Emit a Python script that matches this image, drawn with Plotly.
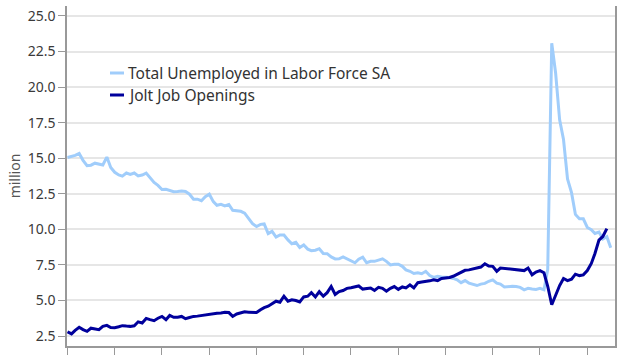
import pandas as pd
import plotly.graph_objects as go

# Monthly data, millions (starting Jan 2010)
start_month = "2010-01-01"
unemployed = [
    15.05, 15.11, 15.20, 15.33, 14.85, 14.47, 14.51, 14.65, 14.58, 14.52, 15.08, 14.35,  # 2010
    14.01, 13.82, 13.74, 13.96, 13.86, 13.96, 13.76, 13.82, 13.95, 13.59, 13.30, 13.09,  # 2011
    12.80, 12.81, 12.71, 12.65, 12.66, 12.69, 12.66, 12.47, 12.12, 12.12, 12.01, 12.30,  # 2012
    12.47, 11.95, 11.69, 11.76, 11.65, 11.75, 11.34, 11.28, 11.27, 11.14, 10.79, 10.40,  # 2013
    10.20, 10.35, 10.38, 9.70, 9.86, 9.46, 9.61, 9.60, 9.26, 8.99, 9.09, 8.72,          # 2014
    8.90, 8.61, 8.50, 8.53, 8.64, 8.30, 8.29, 8.06, 7.92, 7.93, 8.06, 7.93,             # 2015
    7.80, 7.65, 7.90, 8.05, 7.65, 7.75, 7.75, 7.85, 7.93, 7.75, 7.50, 7.55,             # 2016
    7.55, 7.40, 7.15, 7.05, 6.90, 6.95, 6.88, 7.05, 6.75, 6.62, 6.70, 6.65,             # 2017
    6.64, 6.62, 6.55, 6.45, 6.25, 6.40, 6.22, 6.15, 6.05, 6.15, 6.20, 6.35,             # 2018
    6.45, 6.22, 6.15, 5.95, 5.98, 6.00, 5.98, 5.92, 5.75, 5.85, 5.80, 5.78,             # 2019
    5.85, 5.75, 7.18, 23.08, 20.99, 17.70, 16.31, 13.55, 12.58, 11.05, 10.74, 10.74,    # 2020
    10.13, 9.97, 9.71, 9.81, 9.32, 9.48, 8.70,                                          # 2021
]
job_openings = [
    2.80, 2.65, 2.90, 3.12, 2.95, 2.83, 3.05, 3.00, 2.95, 3.18, 3.25, 3.10,  # 2010
    3.08, 3.15, 3.23, 3.20, 3.18, 3.22, 3.50, 3.42, 3.74, 3.65, 3.58, 3.75,  # 2011
    3.88, 3.65, 3.95, 3.82, 3.82, 3.88, 3.72, 3.80, 3.88, 3.90, 3.95, 3.99,  # 2012
    4.02, 4.08, 4.10, 4.12, 4.17, 4.15, 3.88, 4.05, 4.10, 4.20, 4.18, 4.15,  # 2013
    4.15, 4.35, 4.50, 4.60, 4.75, 4.95, 4.88, 5.30, 4.95, 5.05, 5.00, 4.90,  # 2014
    5.25, 5.30, 5.55, 5.25, 5.62, 5.30, 5.55, 5.98, 5.42, 5.62, 5.70, 5.85,  # 2015
    5.90, 5.98, 6.02, 5.80, 5.85, 5.88, 5.70, 5.92, 5.85, 5.65, 5.85, 5.98,  # 2016
    5.78, 5.95, 5.88, 6.10, 5.88, 6.25, 6.30, 6.32, 6.38, 6.45, 6.40, 6.55,  # 2017
    6.58, 6.62, 6.70, 6.85, 6.95, 7.12, 7.15, 7.20, 7.25, 7.35, 7.58, 7.42,  # 2018
    7.40, 7.05, 7.28, 7.25, 7.20, 7.18, 7.15, 7.12, 7.10, 7.28, 6.81, 7.00,  # 2019
    7.10, 6.95, 6.00, 4.70, 5.40, 6.05, 6.55, 6.40, 6.50, 6.85, 6.75, 6.80,  # 2020
    7.10, 7.60, 8.30, 9.25, 9.50, 10.05,                                     # 2021
]
series_names = ["Total Unemployed in Labor Force SA", "Jolt Job Openings"]
series_colors = ["#a0cdfb", "#00009c"]
y_ticks = [2.5, 5.0, 7.5, 10.0, 12.5, 15.0, 17.5, 20.0, 22.5, 25.0]

dates_u = pd.date_range(start_month, periods=len(unemployed), freq="MS")
dates_j = pd.date_range(start_month, periods=len(job_openings), freq="MS")

FONT = "Noto Sans"
fig = go.Figure()
fig.add_trace(go.Scatter(x=dates_u, y=unemployed, mode="lines", name=series_names[0],
                         line=dict(color=series_colors[0], width=3), showlegend=False))
fig.add_trace(go.Scatter(x=dates_j, y=job_openings, mode="lines", name=series_names[1],
                         line=dict(color=series_colors[1], width=3), showlegend=False))

# manual legend (short key lines)
L, W, B, H = 67, 548, 14, 340
leg_rows = [73, 95]
for name, color, yy in zip(series_names, series_colors, leg_rows):
    py = (360 - B - yy) / H
    fig.add_shape(type="line", xref="paper", yref="paper",
                  x0=(110 - L) / W, x1=(124 - L) / W, y0=py, y1=py,
                  line=dict(color=color, width=3))
    fig.add_annotation(xref="paper", yref="paper", x=(126 - L) / W, y=py,
                       xanchor="left", yanchor="middle", showarrow=False,
                       text=name, font=dict(family=FONT, size=15.5, color="#333333"))

fig.update_layout(
    width=640, height=360,
    margin=dict(l=L, r=25, t=6, b=B),
    paper_bgcolor="white", plot_bgcolor="white",
    font=dict(family=FONT, size=14, color="#3a3a3a"),
    xaxis=dict(
        type="date", range=["2009-12-28", "2021-08-03"],
        tick0="2010-01-01", dtick="M12", tickformat="%y", ticklabelmode="period",
        ticks="outside", ticklen=7, tickcolor="#999999", tickwidth=1,
        showline=True, linecolor="#999999", linewidth=1.5,
        showgrid=False, zeroline=False, automargin=False,
        tickfont=dict(family=FONT, size=14, color="#3a3a3a"),
    ),
    yaxis=dict(
        range=[1.80, 25.70], tickvals=y_ticks, tickformat=".1f",
        ticks="outside", ticklen=7, tickcolor="#999999", tickwidth=1,
        showline=True, linecolor="#999999", linewidth=1.5, mirror=True,
        showgrid=True, gridcolor="#e6e6e6", gridwidth=1.5, zeroline=False,
        automargin=False,
        tickfont=dict(family=FONT, size=14, color="#3a3a3a"),
        title=dict(text="million", standoff=4, font=dict(family=FONT, size=14, color="#555555")),
    ),
)

fig.write_html("out.html", config={"displayModeBar": False},
               post_script="document.body.style.margin='0';")
